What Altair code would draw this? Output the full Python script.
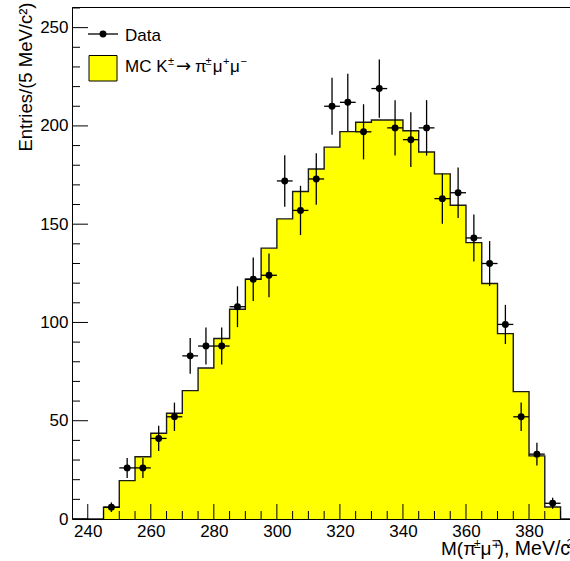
import altair as alt
import pandas as pd
import numpy as np

# ---- data ----
mc_lo = [245, 250, 255, 260, 265, 270, 275, 280, 285, 290, 295, 300, 305, 310, 315,
         320, 325, 330, 335, 340, 345, 350, 355, 360, 365, 370, 375, 380, 385]
mc_val = [6, 19.5, 31.7, 43.6, 53.8, 65.3, 76.8, 91.8, 106.7, 122, 137.8, 152.7, 166.6, 178.1, 189.2,
          197.1, 201.9, 203, 203, 197.5, 186.7, 175.6, 159.6, 140.6, 119.8, 94.3, 64.8, 32.1, 6.1]
bin_width = 5

data_x = [247.5, 252.5, 257.5, 262.5, 267.5, 272.5, 277.5, 282.5, 287.5, 292.5, 297.5, 302.5,
          307.5, 312.5, 317.5, 322.5, 327.5, 332.5, 337.5, 342.5, 347.5, 352.5, 357.5, 362.5,
          367.5, 372.5, 377.5, 382.5, 387.5]
data_n = [6, 26, 26, 41, 52, 83, 88, 88, 108, 122, 124, 172, 157, 173, 210, 212, 197, 219,
          199, 193, 199, 163, 166, 143, 130, 99, 52, 33, 8]

x_major = [240, 260, 280, 300, 320, 340, 360, 380]
y_major = [0, 50, 100, 150, 200, 250]

X_DOMAIN = [235, 393]
Y_DOMAIN = [0, 260.5]
W, H = 498, 512
FONT = "Liberation Sans"
YELLOW = "#ffff00"

# ---- tables ----
step = pd.DataFrame({
    "x": [235] + mc_lo + [mc_lo[-1] + bin_width, 395],
    "y": [0] + mc_val + [0, 0],
})
step["zero"] = 0.0

dat = pd.DataFrame({"x": data_x, "n": data_n})
dat["err"] = np.sqrt(dat["n"])
dat["lo"] = dat["n"] - dat["err"]
dat["hi"] = dat["n"] + dat["err"]
dat["xl"] = dat["x"] - bin_width / 2
dat["xh"] = dat["x"] + bin_width / 2

x_minor = [v for v in range(240, 395, 5) if v not in x_major]
y_minor = [v for v in range(0, 261, 10) if v not in y_major]

xs = alt.Scale(domain=X_DOMAIN, nice=False, zero=False)
ys = alt.Scale(domain=Y_DOMAIN, nice=False, zero=False)

x_axis = alt.Axis(values=x_major, ticks=False, tickSize=0, domain=False, grid=False,
                  labelFontSize=17, labelFont=FONT, labelColor="black", labelPadding=4,
                  title="", format="d")
y_axis = alt.Axis(values=y_major, ticks=False, tickSize=0, domain=False, grid=False,
                  labelFontSize=17, labelFont=FONT, labelColor="black", labelPadding=4,
                  title="Entries/(5 MeV/c²)", titleFontSize=18.5, titleFont=FONT,
                  titleFontWeight="normal", titleColor="black", titleAngle=270,
                  titleAlign="right", titleBaseline="middle", titleX=-47, titleY=-5, format="d")

hist = alt.Chart(step).mark_area(interpolate="step-after", color=YELLOW, opacity=1,
                                 clip=True).encode(
    x=alt.X("x:Q", scale=xs, axis=x_axis),
    y=alt.Y("y:Q", scale=ys, axis=y_axis),
    y2="zero:Q",
)

outline = alt.Chart(step).mark_line(interpolate="step-after", color="#1a1a1a",
                                    strokeWidth=1.4, clip=True).encode(
    x=alt.X("x:Q", scale=xs), y=alt.Y("y:Q", scale=ys))

vbar = alt.Chart(dat).mark_rule(color="black", strokeWidth=1.3).encode(
    x=alt.X("x:Q", scale=xs), y=alt.Y("lo:Q", scale=ys), y2="hi:Q")
hbar = alt.Chart(dat).mark_rule(color="black", strokeWidth=1.3).encode(
    x=alt.X("xl:Q", scale=xs), x2="xh:Q", y=alt.Y("n:Q", scale=ys))
pts = alt.Chart(dat).mark_circle(color="black", opacity=1, size=48).encode(
    x=alt.X("x:Q", scale=xs), y=alt.Y("n:Q", scale=ys))

# inward axis ticks (ROOT style)
ytm = alt.Chart(pd.DataFrame({"v": y_major})).mark_rule(color="black", strokeWidth=1).encode(
    y=alt.Y("v:Q", scale=ys), x=alt.value(0), x2=alt.value(16))
ytn = alt.Chart(pd.DataFrame({"v": y_minor})).mark_rule(color="black", strokeWidth=1).encode(
    y=alt.Y("v:Q", scale=ys), x=alt.value(0), x2=alt.value(8))
xtm = alt.Chart(pd.DataFrame({"v": x_major})).mark_rule(color="black", strokeWidth=1).encode(
    x=alt.X("v:Q", scale=xs), y=alt.value(H), y2=alt.value(H - 15))
xtn = alt.Chart(pd.DataFrame({"v": x_minor})).mark_rule(color="black", strokeWidth=1).encode(
    x=alt.X("v:Q", scale=xs), y=alt.value(H), y2=alt.value(H - 8))

one = pd.DataFrame({"a": [0]})


def piece(text, x, y, size, font=FONT):
    return alt.Chart(one).mark_text(text=text, font=font, fontSize=size, color="black",
                                    align="left", baseline="alphabetic").encode(
        x=alt.value(x), y=alt.value(y))


# legend
leg_line = alt.Chart(one).mark_rule(color="black", strokeWidth=1.3).encode(
    x=alt.value(16), x2=alt.value(46), y=alt.value(27))
leg_dot = alt.Chart(one).mark_circle(color="black", opacity=1, size=48).encode(
    x=alt.value(31), y=alt.value(27))
leg_box = alt.Chart(one).mark_rect(fill=YELLOW, stroke="black", strokeWidth=1).encode(
    x=alt.value(17), x2=alt.value(45), y=alt.value(48.5), y2=alt.value(74))

legend_text = [
    piece("Data", 53, 33.5, 17),
    piece("MC K", 53, 65, 17),
    piece("±", 96, 58, 11),
    piece("→", 104, 65, 18, "DejaVu Sans"),
    piece("π", 123, 65, 17),
    piece("±", 133.5, 58, 11),
    piece("μ", 140.7, 65, 17),
    piece("+", 151, 58, 11),
    piece("μ", 158, 65, 17),
    piece("−", 168.5, 58, 11),
]

# x-axis title with superscripts (ROOT-style); its end runs off the canvas as in the reference
x_title = [
    piece("M(π", 369, 548, 19),
    piece("±", 402, 541, 12),
    piece("μ", 408.5, 548, 19),
    piece("∓", 419, 541, 12, "DejaVu Sans"),
    piece("), MeV/c", 425.5, 548, 19.5),
    piece("2", 494.5, 541, 12),
]

chart = alt.layer(
    hist, outline, ytm, ytn, xtm, xtn, vbar, hbar, pts,
    leg_line, leg_dot, leg_box, *legend_text, *x_title,
).properties(
    width=W, height=H,
    autosize=alt.AutoSizeParams(type="none"),
    padding={"left": 72, "top": 7, "right": 0, "bottom": 42},
    background="white",
).configure_view(stroke="black", strokeWidth=1)

chart.save("out.html", embed_options={"renderer": "svg", "actions": False})
